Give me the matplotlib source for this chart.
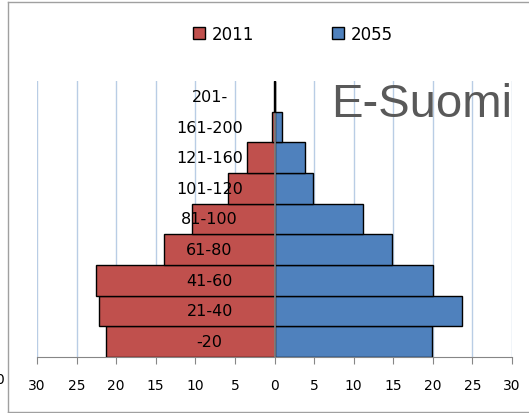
import matplotlib
matplotlib.use("Agg")
import matplotlib.pyplot as plt
import numpy as np

# data
groups = ['-20', '21-40', '41-60', '61-80', '81-100', '101-120', '121-160', '161-200', '201-']
v2011 = [21.3, 22.2, 22.5, 13.9, 10.4, 5.9, 3.45, 0.3, 0.08]
v2055 = [19.9, 23.7, 20.0, 14.85, 11.2, 4.9, 3.8, 0.9, 0.08]
xticks = np.arange(-30, 31, 5)

red = '#C0504D'
blue = '#4F81BD'
grid_col = '#B9CDE5'
axis_col = '#868686'

plt.rcParams['font.family'] = ['DejaVu Sans']

W, H = 529, 414
fig = plt.figure(figsize=(W / 100, H / 100), dpi=100)
ax = fig.add_axes([37 / W, (H - 358) / H, (512 - 37) / W, (358 - 82) / H])

y = np.arange(len(groups))
b1 = ax.barh(y, -np.array(v2011), height=1.0, color=red, edgecolor='black', linewidth=1, label='2011', zorder=3)
b2 = ax.barh(y, v2055, height=1.0, color=blue, edgecolor='black', linewidth=1, label='2055', zorder=3)
# tiny bars (201-) show up as a black line over the zero line
for p in list(b1) + list(b2):
    if abs(p.get_width()) < 0.2:
        p.set_zorder(5)

ax.set_xlim(-30, 30)
ax.set_ylim(-0.5, len(groups) - 0.5)

# vertical grid
for xv in xticks:
    if xv != 0:
        ax.axvline(xv, color=grid_col, lw=1, zorder=1)
ax.axvline(0, color=axis_col, lw=1.2, zorder=4)

# category labels inside the plot
for yi, g in zip(y, groups):
    ax.text(-8.2, yi, g, ha='center', va='center', fontsize=11.5, color='black', zorder=6)

ax.set_xticks(xticks)
ax.set_xticklabels([str(abs(t)) for t in xticks], fontsize=10)
ax.set_yticks([])
ax.tick_params(axis='x', length=5, color=axis_col, pad=10)
for s in ['top', 'right', 'left']:
    ax.spines[s].set_visible(False)
ax.spines['bottom'].set_color(axis_col)

ax.text(1.0, (358 - 117) / 276, 'E-Suomi', transform=ax.transAxes, ha='right', va='baseline',
        fontsize=34, color='#595959', family=['Liberation Sans'], zorder=7)

leg = fig.legend(loc='center', bbox_to_anchor=(293 / W, (H - 35) / H), ncol=2,
                 frameon=False, fontsize=12, handlelength=0.75, handleheight=0.75,
                 handletextpad=0.4, columnspacing=4.65)

# chart area border pieces visible in the crop
fig.add_artist(plt.Line2D([8 / W, 8 / W], [0, (H - 3) / H], color='#A0A0A0', lw=1))
fig.add_artist(plt.Line2D([8 / W, 1], [(H - 3) / H, (H - 3) / H], color='#A0A0A0', lw=1))
fig.add_artist(plt.Line2D([8 / W, 1], [1.5 / H, 1.5 / H], color='#A0A0A0', lw=1))
# sliver of a cut-off label at the very left edge
fig.text(-5 / W, (H - 380) / H, '0', fontsize=10, va='center', ha='left')

fig.savefig('out.png', dpi=100)
